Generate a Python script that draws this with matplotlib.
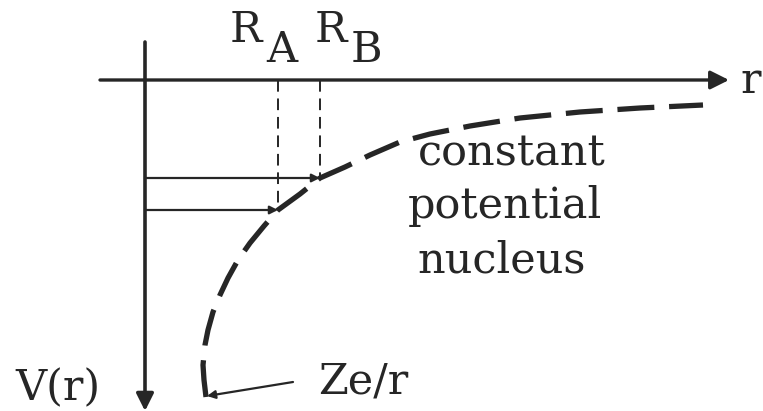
import matplotlib.pyplot as plt

# Coulomb potential sketched against a point nucleus, with two nuclear radii
curve_r = [0.61, 0.59, 0.58, 0.60, 0.63, 0.68, 0.75, 0.83, 0.93, 1.05, 1.19, 1.33,
           1.55, 1.75, 2.00, 2.25, 2.55, 2.85, 3.25, 3.75, 4.35, 4.95, 5.58]
curve_v = [-3.17, -3.00, -2.85, -2.65, -2.50, -2.32, -2.15, -1.98, -1.80, -1.63, -1.46, -1.30,
           -1.14, -0.98, -0.87, -0.75, -0.62, -0.54, -0.46, -0.38, -0.32, -0.28, -0.25]

radii = [1.33, 1.75]
radii_v = [-1.30, -0.98]
radii_names = ['A', 'B']

ink = '#262626'
font = dict(family='DejaVu Serif', size=31, color=ink)

fig = plt.figure(figsize=(7.63, 4.11), dpi=100)
ax = fig.add_axes([0, 0, 1, 1])
ax.set_xlim(-1.45, 6.18)
ax.set_ylim(-3.31, 0.80)
ax.axis('off')

# axes with arrow heads
ax.annotate('', xy=(5.84, 0), xytext=(-0.45, 0),
            arrowprops=dict(arrowstyle='-|>', color=ink, lw=2.4, mutation_scale=28,
                            shrinkA=0, shrinkB=0))
ax.annotate('', xy=(0, -3.31), xytext=(0, 0.38),
            arrowprops=dict(arrowstyle='-|>', color=ink, lw=2.6, mutation_scale=26,
                            shrinkA=0, shrinkB=0))

# radii: dashed drop lines and the constant potential inside
for r, v in zip(radii, radii_v):
    ax.plot([r, r], [0, v], color=ink, lw=1.4, ls=(0, (6, 3.5)))
    ax.annotate('', xy=(r, v), xytext=(0, v),
                arrowprops=dict(arrowstyle='-|>', color=ink, lw=1.6, mutation_scale=12,
                                shrinkA=0, shrinkB=0))

# point-charge potential
ax.plot(curve_r, curve_v, color=ink, lw=3.8, ls=(0, (7, 2.8)),
        solid_capstyle='butt', dash_capstyle='butt')

# labels
for i, (r, name) in enumerate(zip(radii, radii_names)):
    x0 = 0.85 + i * 0.85
    ax.text(x0, 0.38, 'R', ha='left', va='baseline', **font)
    ax.text(x0 + 0.36, 0.18, name, ha='left', va='baseline', **font)

ax.text(5.95, -0.13, 'r', ha='left', va='baseline', **font)
ax.text(-1.30, -3.20, 'V(r)', ha='left', va='baseline', **font)
ax.text(1.73, -3.13, 'Ze/r', ha='left', va='baseline', **font)
ax.text(2.73, -0.85, 'constant', ha='left', va='baseline', **font)
ax.text(2.63, -1.38, 'potential', ha='left', va='baseline', **font)
ax.text(2.72, -1.92, 'nucleus', ha='left', va='baseline', **font)

ax.annotate('', xy=(0.62, -3.16), xytext=(1.48, -3.02),
            arrowprops=dict(arrowstyle='-|>', color=ink, lw=1.6, mutation_scale=12,
                            shrinkA=0, shrinkB=0))

fig.savefig('out.png', dpi=100, facecolor='white')
